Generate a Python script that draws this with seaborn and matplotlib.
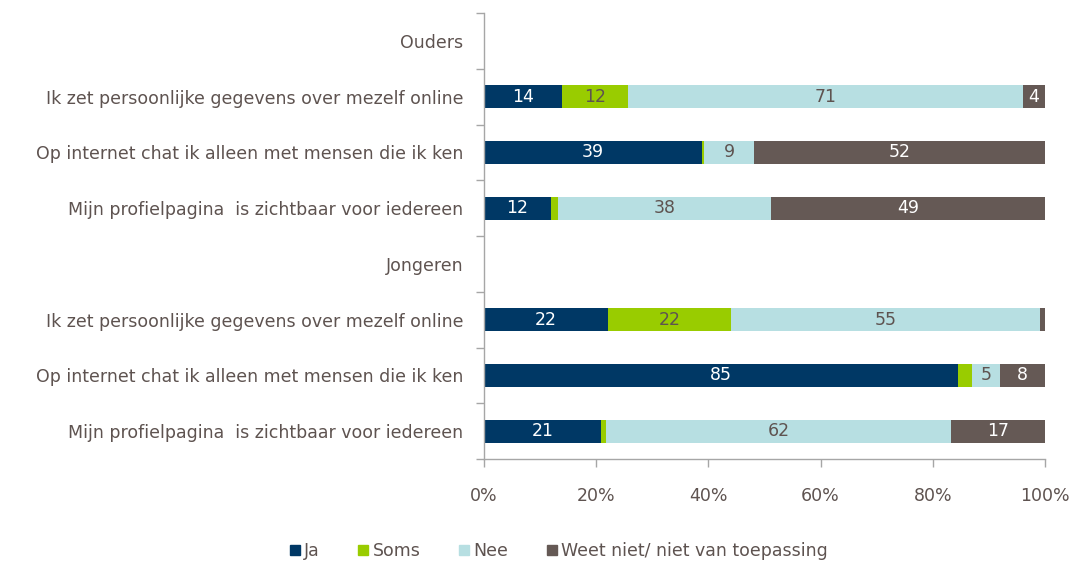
import numpy as np
import pandas as pd
import matplotlib.pyplot as plt
import seaborn as sns
from matplotlib.lines import Line2D

# Rows top to bottom (header rows have no data)
rows = [
    "Ouders",
    "Ik zet persoonlijke gegevens over mezelf online",
    "Op internet chat ik alleen met mensen die ik ken",
    "Mijn profielpagina  is zichtbaar voor iedereen",
    "Jongeren",
    "Ik zet persoonlijke gegevens over mezelf online",
    "Op internet chat ik alleen met mensen die ik ken",
    "Mijn profielpagina  is zichtbaar voor iedereen",
]
ja = [np.nan, 14, 39, 12, np.nan, 22, 85, 21]
soms = [np.nan, 12, 0.3, 1.2, np.nan, 22, 2.5, 1]
nee = [np.nan, 71, 9, 38, np.nan, 55, 5, 62]
weet = [np.nan, 4, 52, 49, np.nan, 0.9, 8, 17]

series = ["Ja", "Soms", "Nee", "Weet niet/ niet van toepassing"]
colors = ["#003865", "#99cc00", "#b7dfe2", "#655955"]
label_colors = ["white", "#5e5350", "#5e5350", "white"]
text_color = "#5e5350"
axis_color = "#a6a6a6"
fs = 12.5

raw = np.array([ja, soms, nee, weet], dtype=float)
totals = np.nansum(raw, axis=0)
totals[totals == 0] = np.nan
share = raw / totals * 100
cum = np.cumsum(share, axis=0)

keys = [f"r{i}" for i in range(len(rows))]

sns.set_style("white")
plt.rcParams["font.family"] = "sans-serif"
plt.rcParams["font.sans-serif"] = ["DejaVu Sans"]

fig = plt.figure(figsize=(10.77, 5.63), dpi=100)
ax = fig.add_axes([0.4494, 0.1847, 0.5209, 0.7922])

# stacked bars: draw cumulative totals back to front
for i in reversed(range(len(series))):
    df = pd.DataFrame({"row": keys, "x": cum[i]}).dropna()
    sns.barplot(data=df, x="x", y="row", order=keys, orient="h",
                color=colors[i], saturation=1, width=0.41,
                linewidth=0, ax=ax)

# value labels
for i in range(len(series)):
    for r in range(len(rows)):
        v = raw[i, r]
        if np.isnan(v) or v < 3.5:
            continue
        ax.text(cum[i, r] - share[i, r] / 2, r, f"{v:.0f}",
                ha="center", va="center", fontsize=fs,
                color=label_colors[i])

ax.set_xlim(0, 100)
ax.set_ylim(7.5, -0.5)
ax.set_xlabel("")
ax.set_ylabel("")
ax.set_xticks(np.arange(0, 101, 20))
ax.set_xticklabels([f"{t}%" for t in range(0, 101, 20)])
ax.set_yticks(range(len(rows)))
ax.set_yticklabels(rows)
ax.set_yticks(np.arange(-0.5, len(rows), 1), minor=True)

ax.tick_params(axis="x", length=6, width=1, color=axis_color, pad=14,
               labelsize=fs, labelcolor=text_color, direction="out", bottom=True)
ax.tick_params(axis="y", which="major", length=0, pad=15,
               labelsize=fs, labelcolor=text_color)
ax.tick_params(axis="y", which="minor", length=6, width=1,
               color=axis_color, direction="out", left=True)

sns.despine(ax=ax, top=True, right=True)
for s in ["left", "bottom"]:
    ax.spines[s].set_color(axis_color)
    ax.spines[s].set_linewidth(1)

handles = [Line2D([], [], marker="s", linestyle="none", markersize=6.5,
                  markerfacecolor=c, markeredgecolor=c) for c in colors]
fig.legend(handles, series, loc="center", bbox_to_anchor=(0.518, 0.021),
           ncol=4, frameon=False, labelcolor=text_color, fontsize=fs,
           handletextpad=0.15, columnspacing=2.1, handlelength=0.8)

fig.savefig("out.png", dpi=100)
